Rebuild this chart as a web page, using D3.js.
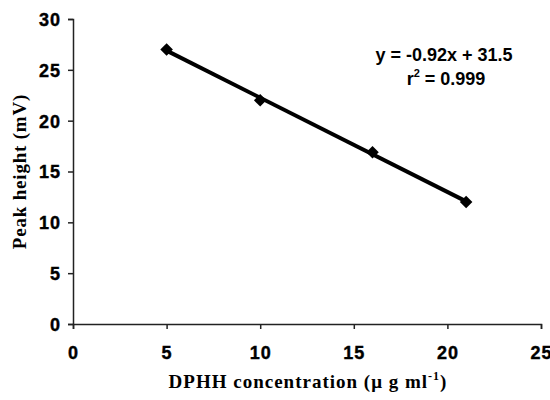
<!DOCTYPE html>
<html>
<head>
  <script src="https://d3js.org/d3.v7.min.js"></script>
  <style>
    body { margin: 0; background: #fff; }
    svg text { font-weight: bold; }
  </style>
</head>
<body>
<script>
// data
const concentration = [5, 10, 16, 21];
const peakHeight = [27, 22, 16.9, 12];
const xTicks = [0, 5, 10, 15, 20, 25];
const yTicks = [0, 5, 10, 15, 20, 25, 30];

const W = 550, H = 400;
const margin = { top: 19, right: 9, bottom: 76, left: 73 };

const svg = d3.select("body").append("svg")
  .attr("width", W).attr("height", H);

const x = d3.scaleLinear().domain([0, 25]).range([margin.left, W - margin.right]);
const y = d3.scaleLinear().domain([0, 30]).range([H - margin.bottom, margin.top]);

// axes
const xAxis = svg.append("g")
  .attr("transform", `translate(0,${y(0)})`)
  .call(d3.axisBottom(x).tickValues(xTicks).tickSize(5).tickPadding(17));
const yAxis = svg.append("g")
  .attr("transform", `translate(${x(0)},0)`)
  .call(d3.axisLeft(y).tickValues(yTicks).tickSize(5).tickPadding(7));
[xAxis, yAxis].forEach(g => {
  g.attr("font-family", "Arial, Liberation Sans, sans-serif")
    .attr("font-size", 18)
    .attr("font-weight", "bold");
  g.select(".domain").attr("stroke", "#222").attr("stroke-width", 1.5);
  g.selectAll(".tick line").attr("stroke", "#222").attr("stroke-width", 1.5);
  g.selectAll(".tick text")
    .attr("font-weight", 700)
    .attr("stroke", "#000")
    .attr("stroke-width", 0.4)
    .attr("letter-spacing", 1)
    .attr("fill", "#000");
});
yAxis.selectAll(".tick text").attr("dy", "0.36em");

// least squares fit
const mx = d3.mean(concentration), my = d3.mean(peakHeight);
const sxy = d3.sum(concentration, (v, i) => (v - mx) * (peakHeight[i] - my));
const sxx = d3.sum(concentration, v => (v - mx) ** 2);
const slope = sxy / sxx, intercept = my - slope * mx;
const xs = d3.extent(concentration);

svg.append("path")
  .datum(xs)
  .attr("fill", "none")
  .attr("stroke", "#000")
  .attr("stroke-width", 4)
  .attr("d", d3.line().x(d => x(d)).y(d => y(slope * d + intercept)));

// markers
svg.selectAll(".pt")
  .data(concentration)
  .join("path")
  .attr("class", "pt")
  .attr("transform", (d, i) => `translate(${x(d)},${y(peakHeight[i])})`)
  .attr("d", d3.symbol(d3.symbolDiamond2, 100))
  .attr("fill", "#000");

// equation
const eq = svg.append("g")
  .attr("font-family", "Arial, Liberation Sans, sans-serif")
  .attr("font-weight", "bold")
  .attr("font-size", 18)
  .attr("text-anchor", "middle");
eq.append("text").attr("x", 444).attr("y", 61).text("y = -0.92x + 31.5");
const r2 = eq.append("text").attr("x", 446).attr("y", 85);
r2.append("tspan").text("r");
r2.append("tspan").attr("font-size", 11).attr("dy", -8).text("2");
r2.append("tspan").attr("dy", 8).text(" = 0.999");

// axis titles
const xt = svg.append("text")
  .attr("x", 308).attr("y", 388)
  .attr("text-anchor", "middle")
  .attr("font-family", "Liberation Serif, Times New Roman, serif")
  .attr("font-weight", "bold")
  .attr("font-size", 19)
  .attr("letter-spacing", 1);
xt.append("tspan").text("DPHH concentration (\u03bc g ml");
xt.append("tspan").attr("font-size", 12).attr("dy", -8).text("-1");
xt.append("tspan").attr("dy", 8).text(")");

svg.append("text")
  .attr("transform", `translate(26,${(y(0) + y(30)) / 2}) rotate(-90)`)
  .attr("text-anchor", "middle")
  .attr("font-family", "Liberation Serif, Times New Roman, serif")
  .attr("font-weight", "bold")
  .attr("font-size", 19)
  .attr("letter-spacing", 0.8)
  .text("Peak height (mV)");
</script>
</body>
</html>
